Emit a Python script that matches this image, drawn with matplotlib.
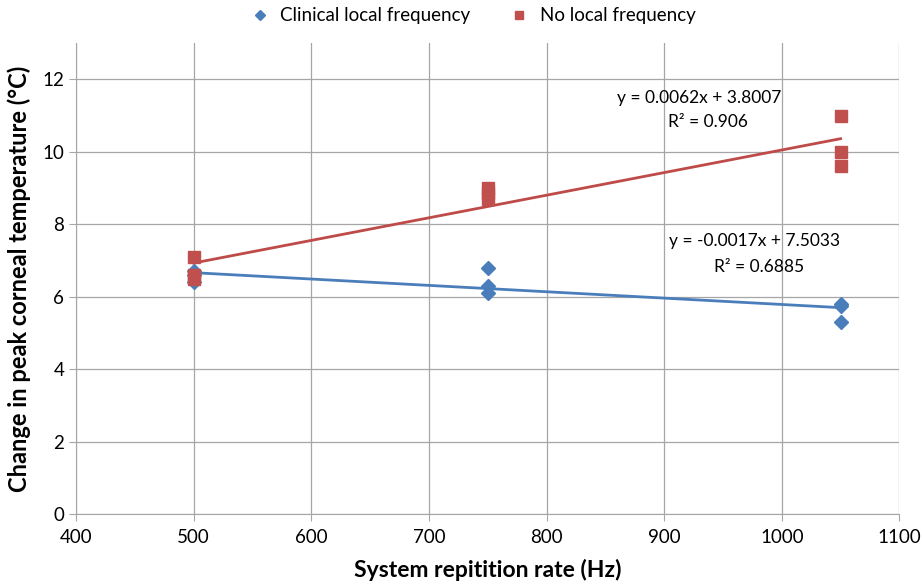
import matplotlib
matplotlib.use("Agg")
import matplotlib.pyplot as plt
import numpy as np

plt.rcParams['font.family'] = ['Lato', 'DejaVu Sans']

x_clin = [500, 500, 500, 750, 750, 750, 1050, 1050, 1050]
y_clin = [6.4, 6.6, 6.7, 6.8, 6.3, 6.1, 5.8, 5.75, 5.3]
x_nolf = [500, 500, 500, 750, 750, 750, 1050, 1050, 1050]
y_nolf = [7.1, 6.6, 6.5, 9.0, 8.85, 8.7, 11.0, 10.0, 9.6]

eq_nolf = ["y = 0.0062x + 3.8007", "R² = 0.906"]
eq_clin = ["y = -0.0017x + 7.5033", "R² = 0.6885"]

blue = '#4A7EBB'
red = '#BE4B48'

fig = plt.figure(figsize=(9.22, 5.84), dpi=100)
ax = fig.add_axes([0.0825, 0.12, 0.893, 0.806])

# trend lines
for xs, ys, c in [(x_clin, y_clin, blue), (x_nolf, y_nolf, red)]:
    p = np.polyfit(xs, ys, 1)
    xx = np.array([min(xs), max(xs)])
    ax.plot(xx, np.polyval(p, xx), color=c, lw=2, zorder=2)

ax.plot(x_clin, y_clin, linestyle='none', marker='D', color=blue, markersize=7,
        label='Clinical local frequency', zorder=3)
ax.plot(x_nolf, y_nolf, linestyle='none', marker='s', color='#C0504D', markersize=8,
        label='No local frequency', zorder=3)

ax.set_xlim(400, 1100)
ax.set_ylim(0, 13)
ax.set_xticks(range(400, 1101, 100))
ax.set_yticks(range(0, 13, 2))
ax.grid(True, color='#A6A6A6', lw=0.9)
ax.set_axisbelow(True)
for s in ['top', 'right']:
    ax.spines[s].set_visible(False)
for s in ['left', 'bottom']:
    ax.spines[s].set_color('#A6A6A6')
ax.tick_params(axis='both', labelsize=13.5, color='#A6A6A6', length=5)
ax.tick_params(axis='x', pad=6)

ax.set_xlabel('System repitition rate (Hz)', fontsize=16.5, fontweight='bold', labelpad=9)
ax.set_ylabel('Change in peak corneal temperature (°C)', fontsize=17, fontweight='bold', labelpad=8)

ax.text(930, 11.49, eq_nolf[0], fontsize=12.5, ha='center', va='center')
ax.text(937, 10.83, eq_nolf[1], fontsize=12.5, ha='center', va='center')
ax.text(977, 7.54, eq_clin[0], fontsize=12.5, ha='center', va='center')
ax.text(981, 6.82, eq_clin[1], fontsize=12.5, ha='center', va='center')

fig.legend(loc='center', bbox_to_anchor=(0.508, 0.973), ncol=2, frameon=False,
           fontsize=13.5, handletextpad=0.1, columnspacing=1.6, markerscale=0.8)

fig.savefig('out.png', dpi=100)
